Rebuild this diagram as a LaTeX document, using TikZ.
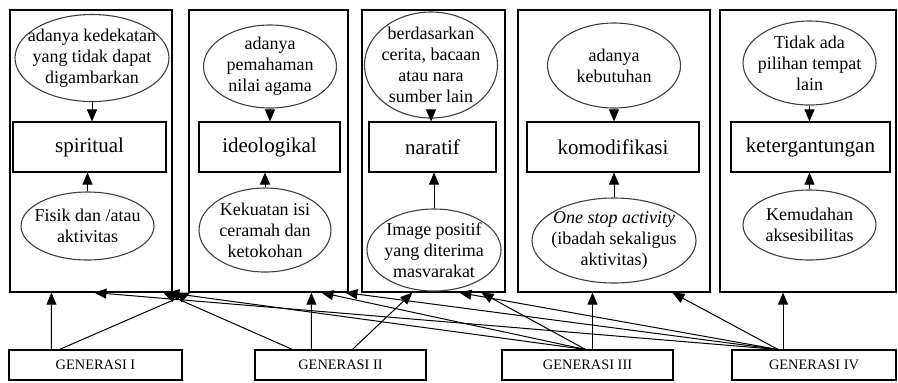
\documentclass[tikz,border=0pt]{standalone}
\usepackage{fontspec}
\setmainfont{Liberation Serif}
\usetikzlibrary{shapes.geometric, arrows.meta}

\begin{document}
\begin{tikzpicture}[x=0.5pt, y=-0.5pt,
		panel/.style={draw, line width=0.6pt, inner sep=0pt},
		aspek/.style={draw, line width=0.55pt, minimum height=25pt, inner sep=0pt, font=\fontsize{10.5}{12}\selectfont},
		oval/.style={ellipse, draw=black!75, line width=0.55pt, inner sep=-10pt, align=center, font=\fontsize{9}{10.5}\selectfont},
		generasi/.style={draw, line width=0.55pt, minimum height=15pt, inner sep=0pt, font=\fontsize{7.2}{8}\selectfont},
		panah/.style={-{Triangle[length=6pt,width=5pt]}, line width=0.5pt}]
		
		\useasboundingbox (0,0) rectangle (898,382);
		
		% Panels
		\node[panel, minimum width=81pt, minimum height=141pt] (p1) at (91,151) {};
		\node[panel, minimum width=79.5pt, minimum height=141pt] (p2) at (268.5,151) {};
		\node[panel, minimum width=71.5pt, minimum height=141pt] (p3) at (433.5,151) {};
		\node[panel, minimum width=96pt, minimum height=141pt] (p4) at (614,151) {};
		\node[panel, minimum width=88pt, minimum height=141pt] (p5) at (808,151) {};
		
		% Aspects
		\node[aspek, minimum width=76.5pt] (b1) at (89.5,147) {spiritual};
		\node[aspek, minimum width=70.5pt] (b2) at (269.5,147) {ideologikal};
		\node[aspek, minimum width=63.5pt] (b3) at (432.5,147) {naratif};
		\node[aspek, minimum width=86pt] (b4) at (613,147) {komodifikasi};
		\node[aspek, minimum width=79.5pt] (b5) at (810.5,147) {ketergantungan};
		
		% Top ovals
		\node[oval, minimum width=77pt, minimum height=43.5pt] (t1) at (92,58) {adanya kedekatan\\yang tidak dapat\\digambarkan};
		\node[oval, minimum width=66.5pt, minimum height=41.5pt] (t2) at (270,66.5) {adanya\\pemahaman\\nilai agama};
		\node[oval, minimum width=66.5pt, minimum height=53pt] (t3) at (431,65) {berdasarkan\\cerita, bacaan\\atau nara\\sumber lain};
		\node[oval, minimum width=66.5pt, minimum height=42.5pt] (t4) at (614,65.5) {adanya\\kebutuhan};
		\node[oval, minimum width=66.5pt, minimum height=42pt] (t5) at (809.5,63) {Tidak ada\\pilihan tempat\\lain};
		
		% Bottom ovals
		\node[oval, minimum width=66.5pt, minimum height=34pt] (u1) at (87.5,226) {Fisik dan /atau\\aktivitas};
		\node[oval, minimum width=66pt, minimum height=42pt] (u2) at (265,230) {Kekuatan isi\\ceramah dan\\ketokohan};
		\node[oval, minimum width=67pt, minimum height=41pt] (u3) at (434,250) {Image positif\\yang diterima\\masvarakat};
		\node[oval, minimum width=82pt, minimum height=42.5pt] (u4) at (614,240.5) {\textit{One stop activity}\\(ibadah sekaligus\\aktivitas)};
		\node[oval, minimum width=66.5pt, minimum height=35pt] (u5) at (809.5,225) {Kemudahan\\aksesibilitas};
		
		% Generations
		\node[generasi, minimum width=86.5pt] (g1) at (95.5,365) {GENERASI I};
		\node[generasi, minimum width=85.5pt] (g2) at (340.5,365) {GENERASI II};
		\node[generasi, minimum width=85.5pt] (g3) at (587.5,365) {GENERASI III};
		\node[generasi, minimum width=82pt] (g4) at (814,365) {GENERASI IV};
		
		% Lines inside the panels
		\draw[panah] (t1) -- (t1 |- b1.north);
		\draw[panah] (t2) -- (t2 |- b2.north);
		\draw[panah] (t3) -- (t3 |- b3.north);
		\draw[panah] (t4) -- (t4 |- b4.north);
		\draw[panah] (t5) -- (t5 |- b5.north);
		\draw[panah] (u1) -- (u1 |- b1.south);
		\draw[panah] (u2) -- (u2 |- b2.south);
		\draw[panah] (u3) -- (u3 |- b3.south);
		\draw[panah] (u4) -- (u4 |- b4.south);
		\draw[panah] (u5) -- (u5 |- b5.south);
		
		% Lines from the generations
		\draw[panah] ([xshift=21.5pt]g1.north west) -- ([xshift=21pt]p1.south west);
		\draw[panah] ([xshift=25.5pt]g1.north west) -- ([xshift=1pt]p2.south west);
		
		\draw[panah] ([xshift=19pt]g2.north west) -- ([xshift=77pt]p1.south west);
		\draw[panah] ([xshift=28.5pt]g2.north west) -- ([xshift=61.5pt]p2.south west);
		\draw[panah] ([xshift=49pt]g2.north west) -- ([xshift=25.5pt]p3.south west);
		
		\draw[panah] ([xshift=-1pt]g3.north) -- ([xshift=79pt]p1.south west);
		\draw[panah] ([xshift=-1pt]g3.north) -- ([xshift=66.5pt]p2.south west);
		\draw[panah] ([xshift=-1pt]g3.north) -- ([xshift=60pt]p3.south west);
		\draw[panah] ([xshift=2.5pt]g3.north) -- ([xshift=2.5pt]g3.north |- p4.south);
		
		\draw[panah] ([xshift=-18pt]g4.north) -- ([xshift=42.5pt]p1.south west);
		\draw[panah] ([xshift=-18pt]g4.north) -- ([xshift=78.5pt]p2.south west);
		\draw[panah] ([xshift=-18pt]g4.north) -- ([xshift=49pt]p3.south west);
		\draw[panah] ([xshift=-18pt]g4.north) -- ([xshift=77.5pt]p4.south west);
		\draw[panah] ([xshift=-15.5pt]g4.north) -- ([xshift=-15.5pt]g4.north |- p5.south);
		
	\end{tikzpicture}
\end{document}
